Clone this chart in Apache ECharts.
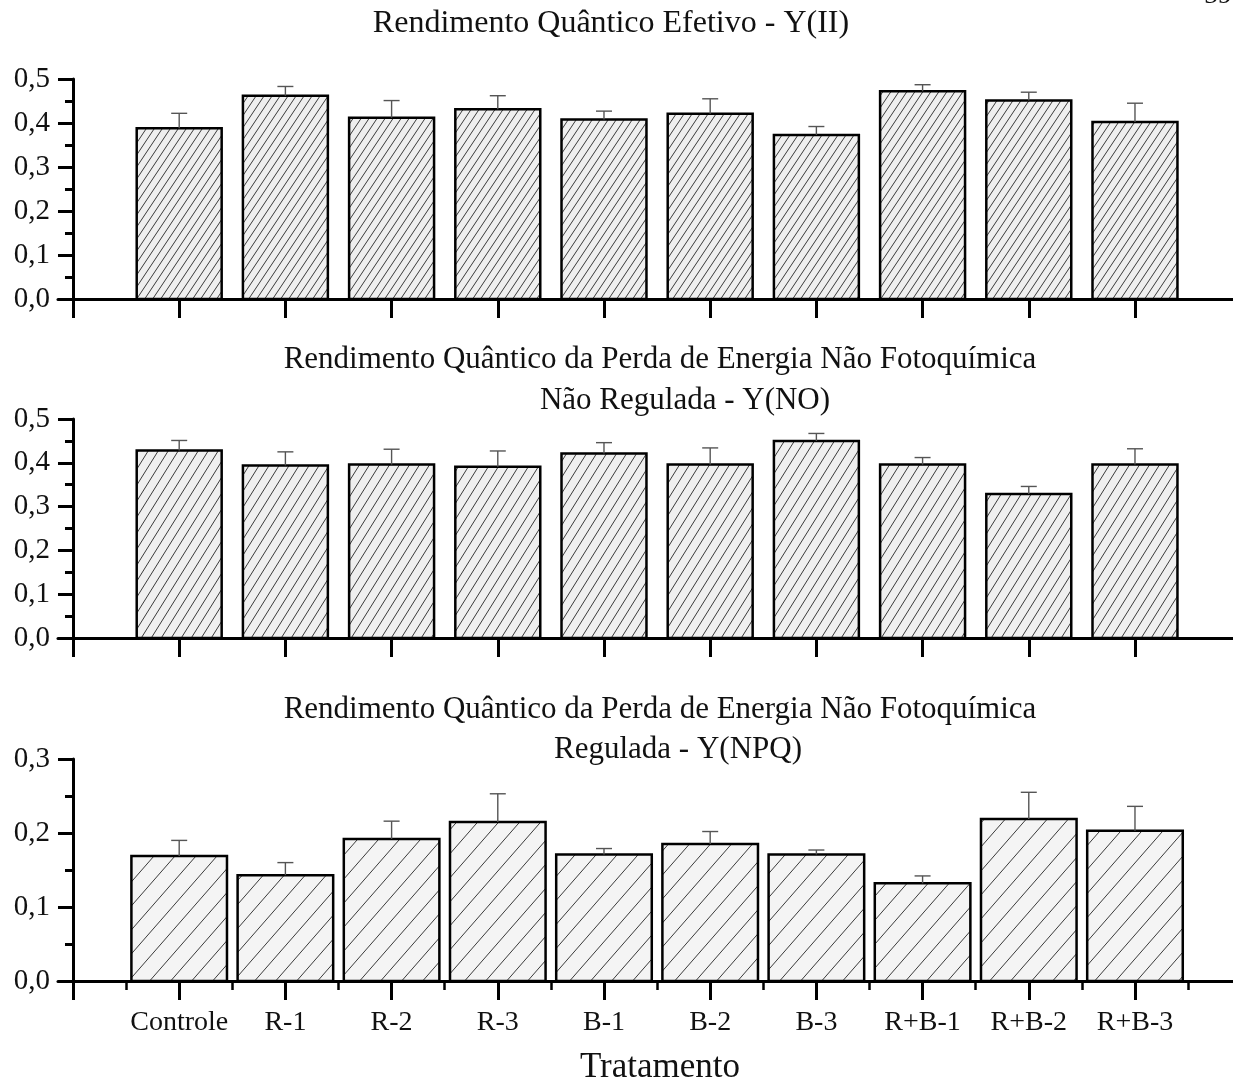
<!DOCTYPE html>
<html><head><meta charset="utf-8">
<script src="https://cdn.jsdelivr.net/npm/echarts@6/dist/echarts.min.js"></script>
<style>html,body{margin:0;padding:0;background:#fff}#c{width:1233px;height:1086px}</style>
</head><body><div id="c"></div>
<script>
// ---- data ----
const categories = ['Controle', 'R-1', 'R-2', 'R-3', 'B-1', 'B-2', 'B-3', 'R+B-1', 'R+B-2', 'R+B-3'];
const yIIMean  = [0.388, 0.462, 0.412, 0.431, 0.408, 0.421, 0.373, 0.472, 0.451, 0.402];
const yIISd    = [0.034, 0.021, 0.039, 0.031, 0.019, 0.034, 0.019, 0.015, 0.019, 0.043];
const yNOMean  = [0.428, 0.394, 0.396, 0.391, 0.421, 0.396, 0.450, 0.396, 0.329, 0.396];
const yNOSd    = [0.023, 0.031, 0.035, 0.036, 0.025, 0.038, 0.017, 0.016, 0.017, 0.036];
const yNPQMean = [0.169, 0.143, 0.192, 0.215, 0.171, 0.185, 0.171, 0.132, 0.219, 0.203];
const yNPQSd   = [0.021, 0.017, 0.024, 0.038, 0.008, 0.017, 0.006, 0.010, 0.036, 0.033];
const xTickValues  = [0, 1, 2, 3, 4, 5, 6, 7, 8, 9, 10];
const xLabelValues = [1, 2, 3, 4, 5, 6, 7, 8, 9, 10];
const xMinorValues = [0.5, 1.5, 2.5, 3.5, 4.5, 5.5, 6.5, 7.5, 8.5, 9.5, 10.5];
const titles = {
  p1: 'Rendimento Quântico Efetivo - Y(II)',
  p2a: 'Rendimento Quântico da Perda de Energia Não Fotoquímica',
  p2b: 'Não Regulada - Y(NO)',
  p3a: 'Rendimento Quântico da Perda de Energia Não Fotoquímica',
  p3b: 'Regulada - Y(NPQ)',
  xName: 'Tratamento',
  page: '59'
};

// ---- helpers ----
const FONT = "'Liberation Serif', 'Times New Roman', serif";
const XMIN = -0.1412, XMAX = 10.923;

function hatch(w, h, bg, color, lw) {
  const c = document.createElement('canvas');
  c.width = w; c.height = h;
  const g = c.getContext('2d');
  g.fillStyle = bg; g.fillRect(0, 0, w, h);
  g.strokeStyle = color; g.lineWidth = lw;
  g.beginPath();
  for (const dx of [-w, 0, w]) { g.moveTo(dx, h); g.lineTo(dx + w, 0); }
  g.stroke();
  return { image: c, repeat: 'repeat' };
}
const pat1 = hatch(8, 12, '#efefef', '#3a3a3a', 1);
const pat2 = hatch(10, 16, '#efefef', '#3a3a3a', 1);
const pat3 = hatch(21, 24, '#f4f4f4', '#3a3a3a', 1);

function xAxisCfg(gi, showLabels) {
  return {
    type: 'value', gridIndex: gi, min: XMIN, max: XMAX, position: 'bottom',
    splitLine: { show: false },
    axisLine: { show: true, onZero: true, lineStyle: { color: '#000', width: 3 } },
    axisTick: { show: true, inside: false, length: 19, customValues: xTickValues,
                lineStyle: { color: '#000', width: 3 } },
    axisLabel: { show: showLabels, customValues: xLabelValues, margin: 28,
                 fontFamily: FONT, fontSize: 28, color: '#111',
                 formatter: v => categories[Math.round(v) - 1] || '' }
  };
}
function yAxisCfg(gi, max) {
  return {
    type: 'value', gridIndex: gi, min: 0, max: max, interval: 0.1,
    splitLine: { show: false },
    axisLine: { show: true, onZero: true, lineStyle: { color: '#000', width: 3 } },
    axisTick: { show: true, inside: false, length: 15, lineStyle: { color: '#000', width: 3 } },
    minorTick: { show: true, splitNumber: 2, length: 8, lineStyle: { color: '#000', width: 3 } },
    axisLabel: { margin: 8, fontFamily: FONT, fontSize: 29, color: '#111',
                 formatter: v => v.toFixed(1).replace('.', ',') }
  };
}
function barSeries(idx, mean, barW, pattern) {
  return {
    type: 'custom', coordinateSystem: 'cartesian2d', xAxisIndex: idx, yAxisIndex: idx,
    data: mean.map((v, i) => [i + 1, v]),
    renderItem: (params, api) => {
      const x = api.value(0), v = api.value(1);
      const p0 = api.coord([x - barW / 2, v]);
      const p1 = api.coord([x + barW / 2, 0]);
      return { type: 'rect',
        shape: { x: p0[0], y: p0[1], width: p1[0] - p0[0], height: p1[1] - p0[1] },
        style: { fill: pattern, stroke: '#000', lineWidth: 2.5 } };
    }
  };
}
function errSeries(idx, mean, sd) {
  return {
    type: 'custom', coordinateSystem: 'cartesian2d', xAxisIndex: idx, yAxisIndex: idx, z: 3,
    data: mean.map((v, i) => [i + 1, v, v + sd[i]]),
    renderItem: (params, api) => {
      const x = api.value(0);
      const b = api.coord([x, api.value(1)]);
      const t = api.coord([x, api.value(2)]);
      const st = { stroke: '#555', lineWidth: 1.4 };
      return { type: 'group', children: [
        { type: 'line', shape: { x1: b[0], y1: b[1], x2: t[0], y2: t[1] }, style: st },
        { type: 'line', shape: { x1: t[0] - 8, y1: t[1], x2: t[0] + 8, y2: t[1] }, style: st }
      ] };
    }
  };
}
function txt(text, x, y, size) {
  return { type: 'text', x: x, y: y, z: 10,
    style: { text: text, fontFamily: FONT, fontSize: size, fill: '#111',
             align: 'center', verticalAlign: 'middle' } };
}

const chart = echarts.init(document.getElementById('c'), null, { renderer: 'canvas' });
const minorAxis = {
  type: 'value', gridIndex: 2, min: XMIN, max: XMAX, position: 'bottom',
  splitLine: { show: false },
  axisLine: { show: false, onZero: true },
  axisTick: { show: true, inside: false, length: 9, customValues: xMinorValues,
              lineStyle: { color: '#000', width: 2.5 } },
  axisLabel: { show: false }
};
chart.setOption({
  animation: false,
  backgroundColor: '#fff',
  grid: [
    { left: 58, right: 0, top: 79, height: 220, outerBoundsMode: 'none' },
    { left: 58, right: 0, top: 419, height: 219, outerBoundsMode: 'none' },
    { left: 58, right: 0, top: 759, height: 222, outerBoundsMode: 'none' }
  ],
  xAxis: [xAxisCfg(0, false), xAxisCfg(1, false), xAxisCfg(2, true), minorAxis],
  yAxis: [yAxisCfg(0, 0.5), yAxisCfg(1, 0.5), yAxisCfg(2, 0.3)],
  series: [
    barSeries(0, yIIMean, 0.8, pat1), errSeries(0, yIIMean, yIISd),
    barSeries(1, yNOMean, 0.8, pat2), errSeries(1, yNOMean, yNOSd),
    barSeries(2, yNPQMean, 0.9, pat3), errSeries(2, yNPQMean, yNPQSd)
  ],
  graphic: [
    txt(titles.p1, 611, 24, 32),
    txt(titles.p2a, 660, 360, 31),
    txt(titles.p2b, 685, 401, 31),
    txt(titles.p3a, 660, 710, 31),
    txt(titles.p3b, 678, 750, 31),
    txt(titles.xName, 660, 1068, 35),
    txt(titles.page, 1218, -4, 28)
  ]
});
</script></body></html>
